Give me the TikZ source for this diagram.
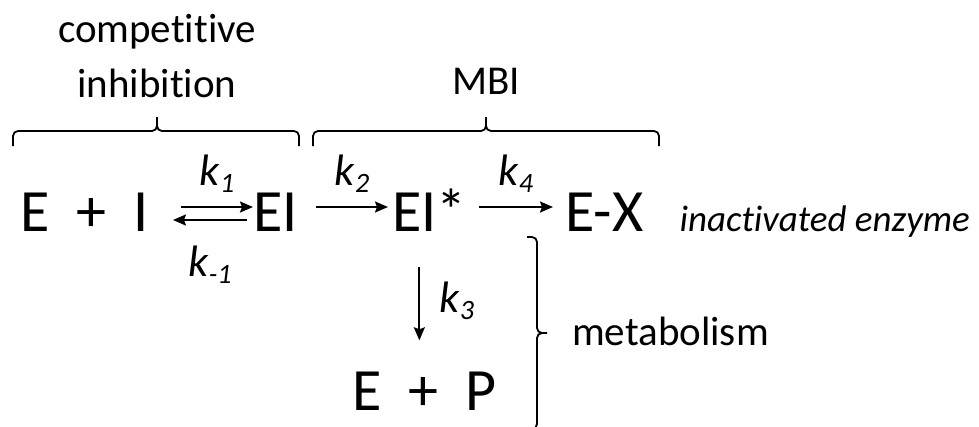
\documentclass[tikz,border=0pt]{standalone}
\usepackage{fontspec}
\setmainfont{Carlito}[Ligatures={NoCommon}]
\usepackage{tikz}
\usetikzlibrary{arrows.meta, positioning, calc}

\newcommand{\kconst}[1]{\textit{k}\raisebox{-7pt}{\fontsize{28}{28}\selectfont\itshape #1}}

\tikzset{
  species/.style={inner sep=0pt, anchor=base west, font=\fontsize{60}{72}\selectfont},
  rate/.style={inner sep=0pt, font=\fontsize{44}{50}\selectfont},
  note/.style={inner sep=0pt, font=\fontsize{41}{55}\selectfont},
  rxn/.style={line width=2pt, -{Stealth[length=13pt,width=11pt,inset=2pt]}},
  bracket/.style={line width=1.8pt},
}

\begin{document}
\begin{tikzpicture}[x=1pt, y=-1pt]
    \useasboundingbox (0,0) rectangle (979,426);

    % Specie
    \node[species] (EplusI) at (20,231) {E\ \ +\ \ I};
    \node[species] (EI) at (253,231) {EI};
    \node[species] (EIs) at (392,231) {EI*};
    \node[species] (EX) at (565,231) {E-X};
    \node[species] (EplusP) at (352,410) {E\ \ +\ \ P};

    % Equilibrio k1 / k-1
    \draw[rxn] ([shift={(32pt,24pt)}]EplusI.base east) -- ([yshift=24pt]EI.base west)
        node[rate, midway, above=14pt] (k1) {\kconst{1}};
    \draw[rxn] ([shift={(-6pt,11pt)}]EI.base west) -- ([shift={(24pt,11pt)}]EplusI.base east)
        node[rate, midway, below=25pt] (km1) {\kconst{-1}};

    % Inattivazione
    \draw[rxn] ([shift={(18pt,24pt)}]EI.base east) -- ([shift={(-4pt,24pt)}]EIs.base west)
        node[rate, midway, above=14pt] (k2) {\kconst{2}};
    \draw[rxn] ([shift={(12pt,24pt)}]EIs.base east) -- ([shift={(-12pt,24pt)}]EX.base west)
        node[rate, midway, above=14pt] (k4) {\kconst{4}};

    % Metabolismo
    \draw[rxn, shorten <=36pt, shorten >=31pt] ([xshift=-10pt]EIs.south) -- ([xshift=-10pt]EIs.south |- EplusP.north)
        node[rate, midway, right=19pt] (k3) {\kconst{3}};

    % Parentesi graffe
    \draw[bracket] (13,146) -- (13,136) to[out=90,in=180] (18,131) -- (152,131) to[out=0,in=-90] (157,126) -- (157,117)
        (157,126) to[out=-90,in=180] (162,131) -- (294,131) to[out=0,in=90] (299,136) -- (299,146);
    \draw[bracket] (313,146) -- (313,136) to[out=90,in=180] (318,131) -- (481,131) to[out=0,in=-90] (486,126) -- (486,117)
        (486,126) to[out=-90,in=180] (491,131) -- (654,131) to[out=0,in=90] (659,136) -- (659,146);
    \draw[bracket] (527,237) -- (532,237) to[out=0,in=90] (537,242) -- (537,328) to[out=-90,in=180] (542,333) -- (547,333)
        (542,333) to[out=180,in=90] (537,338) -- (537,424) to[out=-90,in=0] (532,429) -- (527,429);

    % Etichette
    \node[note, align=center, anchor=south] (compinh) at (157,98) {competitive\\inhibition};
    \node[note, anchor=base] (mbi) at (486,94) {MBI};
    \node[note, right=36pt of EX.base east, anchor=base west, font=\fontsize{37}{44}\selectfont\itshape] (inact) {inactivated enzyme};
    \node[note, anchor=base west] (metab) at (572,345) {metabolism};
\end{tikzpicture}
\end{document}
